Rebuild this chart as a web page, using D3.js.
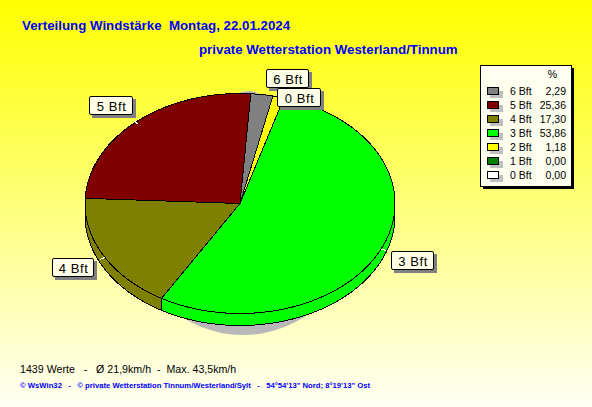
<!DOCTYPE html>
<html><head><meta charset="utf-8">
<script src="https://cdn.jsdelivr.net/npm/d3@7"></script>
<style>html,body{margin:0;padding:0;background:#fff}svg{display:block}text{font-family:"Liberation Sans",Arial,sans-serif}</style>
</head><body><svg id="c" width="592" height="407"></svg>
<script>
const categories = ["6 Bft","5 Bft","4 Bft","3 Bft","2 Bft","1 Bft","0 Bft"];
const percents = [2.29,25.36,17.30,53.86,1.18,0.00,0.00];
const percentLabels = ["2,29","25,36","17,30","53,86","1,18","0,00","0,00"];
const colors = ["#808080","#800000","#808000","#00ff00","#ffff00","#008000","#ffffff"];
const calloutNames = ["6 Bft","5 Bft","4 Bft","3 Bft","0 Bft"];
const titleLines = ["Verteilung Windstärke  Montag, 22.01.2024","private Wetterstation Westerland/Tinnum"];
const footerStats = "1439 Werte   -   Ø 21,9km/h  -  Max. 43,5km/h";
const footerCredit = "© WsWin32   -   © private Wetterstation Tinnum/Westerland/Sylt   -   54°54'13\" Nord; 8°19'13\" Ost";

const svg = d3.select("#c");
const defs = svg.append("defs");
const g = defs.append("linearGradient").attr("id","bg").attr("x1",0).attr("y1",0).attr("x2",0).attr("y2",1);
g.append("stop").attr("offset","0%").attr("stop-color","#ffff00");
g.append("stop").attr("offset","100%").attr("stop-color","#fffff5");
svg.append("rect").attr("width",592).attr("height",407).attr("fill","url(#bg)");

svg.append("text").attr("x",22).attr("y",30).attr("fill","#0000ff").attr("font-weight","bold").attr("font-size",13.3).style("white-space","pre").text(titleLines[0]);
svg.append("text").attr("x",199).attr("y",54).attr("fill","#0000ff").attr("font-weight","bold").attr("font-size",13.3).text(titleLines[1]);

// pie geometry
const cx=240, cy=203.5, rx=155, ry=110, depth=12;
const sx = d3.scaleLinear().domain([-1,1]).range([cx-rx,cx+rx]);
const sy = d3.scaleLinear().domain([-1,1]).range([cy-ry,cy+ry]);
const pt=(a,dy=0,k=1)=>[sx(k*Math.sin(a)), sy(-k*Math.cos(a))+dy];
const order=[0,4,3,2,1];
const pie = d3.pie().sort(null).value(i=>percents[i]).startAngle(4*Math.PI/180).endAngle(364*Math.PI/180);
// pie order clockwise from the top: 6,2,3,4,5
const arcs = pie(order);
const N=120;
function topPath(a0,a1){const p=d3.path();p.moveTo(cx,cy);for(let k=0;k<=N;k++){const [x,y]=pt(a0+(a1-a0)*k/N);p.lineTo(x,y);}p.closePath();return p.toString();}
function rimPath(a0,a1){
  const s=Math.max(a0,Math.PI/2), e=Math.min(a1,3*Math.PI/2);
  if(e<=s) return null;
  const p=d3.path();
  for(let k=0;k<=N;k++){const [x,y]=pt(s+(e-s)*k/N);k?p.lineTo(x,y):p.moveTo(x,y);}
  for(let k=N;k>=0;k--){const [x,y]=pt(s+(e-s)*k/N,depth);p.lineTo(x,y);}
  p.closePath();return p.toString();
}
// shadow
svg.append("ellipse").attr("cx",243).attr("cy",228).attr("rx",110).attr("ry",107).attr("fill","#b8b8b8");
svg.append("ellipse").attr("cx",248).attr("cy",130).attr("rx",30).attr("ry",39).attr("fill","#b8b8b8");
const pg=svg.append("g").attr("stroke","#000").attr("stroke-width",1).attr("shape-rendering","crispEdges");
pg.selectAll("path.rim").data(arcs).join("path").attr("class","rim")
  .attr("d",d=>rimPath(d.startAngle,d.endAngle)).attr("fill",d=>colors[d.data]);
pg.selectAll("path.top").data(arcs).join("path").attr("class","top")
  .attr("d",d=>topPath(d.startAngle,d.endAngle)).attr("fill",d=>colors[d.data]);
// short white leader stubs at the slice mid-angles
svg.append("g").selectAll("line").data(arcs.filter(d=>calloutNames.includes(categories[d.data])&&d.data!==0))
  .join("line").attr("stroke","#fff").attr("shape-rendering","crispEdges")
  .each(function(d){const m=(d.startAngle+d.endAngle)/2;const [a,b]=pt(m,2,0.99),[c,e]=pt(m,2,1.03);
    d3.select(this).attr("x1",a).attr("y1",b).attr("x2",c).attr("y2",e);});

// callouts
const boxX=d3.scaleOrdinal().domain(calloutNames).range([266,89,52,391,277]);
const boxY=d3.scaleOrdinal().domain(calloutNames).range([69,96,258,251,88]);
const boxW=d3.scaleOrdinal().domain(calloutNames).range([42,43,41,42,43]);
const cb=svg.append("g").selectAll("g").data(calloutNames).join("g").attr("transform",d=>`translate(${boxX(d)},${boxY(d)})`);
cb.append("rect").attr("x",3).attr("y",3).attr("width",d=>boxW(d)+1).attr("height",19).attr("fill","#808080");
cb.append("rect").attr("x",.5).attr("y",.5).attr("width",d=>boxW(d)).attr("height",18).attr("rx",1.5).attr("fill","#ffffe8").attr("stroke","#000");
cb.append("text").attr("x",d=>boxW(d)/2+1).attr("y",15).attr("text-anchor","middle").attr("font-size",13).attr("letter-spacing",.6).attr("fill","#000").text(d=>d);

// legend
const lg=svg.append("g").attr("transform","translate(480,65)");
lg.append("rect").attr("x",3).attr("y",3).attr("width",91).attr("height",121).attr("fill","#000");
lg.append("rect").attr("x",.5).attr("y",.5).attr("width",91).attr("height",121).attr("fill","#fffff0").attr("stroke","#000");
lg.append("text").attr("x",77).attr("y",13).attr("text-anchor","end").attr("font-size",10.5).text("%");
const ly=d3.scalePoint().domain(categories).range([28,112]);
const row=lg.selectAll("g.r").data(categories).join("g").attr("class","r").attr("transform",d=>`translate(0,${ly(d)})`);
row.append("rect").attr("x",10).attr("y",-2).attr("width",13).attr("height",7).attr("fill","#c0c0c0");
row.append("rect").attr("x",7.5).attr("y",-5.5).attr("width",11).attr("height",7).attr("stroke","#000").attr("fill",(d,i)=>colors[i]);
row.append("text").attr("x",30).attr("y",2).attr("font-size",10.5).text(d=>d);
row.append("text").attr("x",86).attr("y",2).attr("text-anchor","end").attr("font-size",10.5).text((d,i)=>percentLabels[i]);

svg.append("text").attr("x",20).attr("y",373).attr("font-size",10.65).attr("fill","#000").style("white-space","pre").text(footerStats);
svg.append("text").attr("x",20).attr("y",388).attr("font-size",7.7).attr("font-weight","bold").attr("fill","#0000ff").style("white-space","pre").text(footerCredit);
</script></body></html>
